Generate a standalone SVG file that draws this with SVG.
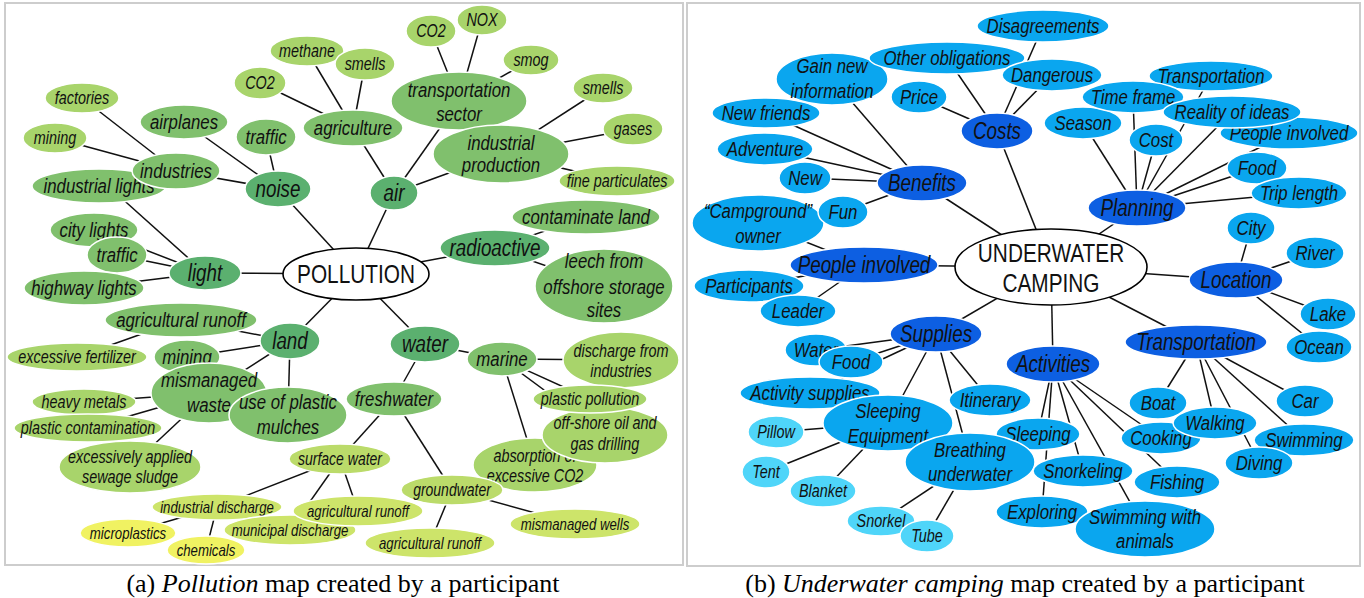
<svg xmlns="http://www.w3.org/2000/svg" width="1364" height="598" viewBox="0 0 1364 598">
<style>
.bg{fill:#fff}
.frame{fill:#fff;stroke:#cdcdcd;stroke-width:2}
ellipse{stroke:#fff;stroke-width:1.5}
ellipse.root{fill:#fff;stroke:#000;stroke-width:1.6}
.g1{fill:#5bb06f}.g2{fill:#80c06d}.g3{fill:#a8d46b}.g3b{fill:#bbdb6a}.g4{fill:#cde46a}.g5{fill:#f0f262}
.b1{fill:#0d5fe2}.b2{fill:#0aa6ef}.b3{fill:#4fd5f9}
text{font-family:"Liberation Sans",Arial,sans-serif;font-style:italic;fill:#111;text-anchor:middle}
.f0{font-size:26px;font-style:normal}
.f1{font-size:23.5px}.f2{font-size:21px}.f3{font-size:18px}.f35{font-size:17.5px}.f4{font-size:16.5px}
.cap{font-family:"Liberation Serif","Times New Roman",serif;font-style:normal;font-size:26px;fill:#000}
.cap .it{font-style:italic}
.conn line{stroke:#111;stroke-width:1.5}
</style>
<rect class="bg" x="0" y="0" width="1364" height="598"/>
<rect class="frame" x="5" y="3" width="678" height="562"/>
<rect class="frame" x="687" y="3" width="673" height="563"/>

<!-- LEFT connectors -->
<g id="connectors-pollution" class="conn">
<line x1="356" y1="274" x2="278" y2="189"/>
<line x1="356" y1="274" x2="394" y2="193"/>
<line x1="356" y1="274" x2="205" y2="273"/>
<line x1="356" y1="274" x2="290" y2="341"/>
<line x1="356" y1="274" x2="425" y2="344"/>
<line x1="356" y1="274" x2="495" y2="248"/>
<line x1="278" y1="189" x2="176" y2="171"/>
<line x1="278" y1="189" x2="184" y2="122"/>
<line x1="278" y1="189" x2="266" y2="137"/>
<line x1="176" y1="171" x2="82" y2="98"/>
<line x1="176" y1="171" x2="55" y2="138"/>
<line x1="205" y1="273" x2="108" y2="186"/>
<line x1="205" y1="273" x2="94" y2="230"/>
<line x1="205" y1="273" x2="117" y2="255"/>
<line x1="205" y1="273" x2="84" y2="288"/>
<line x1="290" y1="341" x2="181" y2="320"/>
<line x1="290" y1="341" x2="187" y2="357"/>
<line x1="290" y1="341" x2="209" y2="393"/>
<line x1="290" y1="341" x2="288" y2="415"/>
<line x1="181" y1="320" x2="77" y2="357"/>
<line x1="209" y1="393" x2="84" y2="402"/>
<line x1="209" y1="393" x2="88" y2="428"/>
<line x1="209" y1="393" x2="130" y2="467"/>
<line x1="394" y1="193" x2="353" y2="128"/>
<line x1="394" y1="193" x2="459" y2="101"/>
<line x1="394" y1="193" x2="501" y2="154"/>
<line x1="353" y1="128" x2="260" y2="83"/>
<line x1="353" y1="128" x2="307" y2="51"/>
<line x1="353" y1="128" x2="365" y2="64"/>
<line x1="459" y1="101" x2="431" y2="31"/>
<line x1="459" y1="101" x2="482" y2="20"/>
<line x1="459" y1="101" x2="531" y2="60"/>
<line x1="501" y1="154" x2="603" y2="88"/>
<line x1="501" y1="154" x2="633" y2="129"/>
<line x1="501" y1="154" x2="617" y2="181"/>
<line x1="495" y1="248" x2="586" y2="217"/>
<line x1="495" y1="248" x2="604" y2="286"/>
<line x1="425" y1="344" x2="502" y2="359"/>
<line x1="425" y1="344" x2="394" y2="399"/>
<line x1="502" y1="359" x2="621" y2="360"/>
<line x1="502" y1="359" x2="590" y2="399"/>
<line x1="502" y1="359" x2="605" y2="435"/>
<line x1="502" y1="359" x2="535" y2="465"/>
<line x1="394" y1="399" x2="340" y2="459"/>
<line x1="394" y1="399" x2="452" y2="490"/>
<line x1="340" y1="459" x2="217" y2="507"/>
<line x1="340" y1="459" x2="358" y2="511"/>
<line x1="340" y1="459" x2="290" y2="530"/>
<line x1="217" y1="507" x2="128" y2="533"/>
<line x1="217" y1="507" x2="206" y2="550"/>
<line x1="452" y1="490" x2="430" y2="543"/>
<line x1="452" y1="490" x2="575" y2="524"/>
</g>

<!-- LEFT nodes -->
<g id="pollution"><ellipse class="root" cx="356" cy="274" rx="73" ry="26"/><text class="f0" transform="translate(356 274) scale(.8 1)" y="9">POLLUTION</text></g>
<g id="noise"><ellipse class="g1" cx="278" cy="189" rx="33" ry="18"/><text class="f1" transform="translate(278 189) scale(.8 1)" y="8.2">noise</text></g>
<g id="air"><ellipse class="g1" cx="394" cy="193" rx="24" ry="17"/><text class="f1" transform="translate(394 193) scale(.8 1)" y="8.2">air</text></g>
<g id="light"><ellipse class="g1" cx="205" cy="273" rx="36" ry="17"/><text class="f1" transform="translate(205 273) scale(.8 1)" y="8.2">light</text></g>
<g id="land"><ellipse class="g1" cx="290" cy="341" rx="30" ry="18"/><text class="f1" transform="translate(290 341) scale(.8 1)" y="8.2">land</text></g>
<g id="water"><ellipse class="g1" cx="425" cy="344" rx="35" ry="18"/><text class="f1" transform="translate(425 344) scale(.8 1)" y="8.2">water</text></g>
<g id="radioactive"><ellipse class="g1" cx="495" cy="248" rx="55" ry="18"/><text class="f1" transform="translate(495 248) scale(.8 1)" y="8.2">radioactive</text></g>

<g id="airplanes"><ellipse class="g2" cx="184" cy="122" rx="44" ry="17"/><text class="f2" transform="translate(184 122) scale(.8 1)" y="7.4">airplanes</text></g>
<g id="traffic-noise"><ellipse class="g2" cx="266" cy="137" rx="30" ry="18"/><text class="f2" transform="translate(266 137) scale(.8 1)" y="7.4">traffic</text></g>
<g id="industrial-lights"><ellipse class="g2" cx="99" cy="186" rx="67" ry="17"/><text class="f2" transform="translate(99 186) scale(.8 1)" y="7.4">industrial lights</text></g>
<g id="industries"><ellipse class="g2" cx="176" cy="171" rx="44" ry="18"/><text class="f2" transform="translate(176 171) scale(.8 1)" y="7.4">industries</text></g>
<g id="city-lights"><ellipse class="g2" cx="94" cy="230" rx="44" ry="17"/><text class="f2" transform="translate(94 230) scale(.8 1)" y="7.4">city lights</text></g>
<g id="traffic-light"><ellipse class="g2" cx="117" cy="255" rx="30" ry="18"/><text class="f2" transform="translate(117 255) scale(.8 1)" y="7.4">traffic</text></g>
<g id="highway-lights"><ellipse class="g2" cx="84" cy="288" rx="60" ry="17"/><text class="f2" transform="translate(84 288) scale(.8 1)" y="7.4">highway lights</text></g>
<g id="agricultural-runoff-land"><ellipse class="g2" cx="181" cy="320" rx="76" ry="17"/><text class="f2" transform="translate(181 320) scale(.8 1)" y="7.4">agricultural runoff</text></g>
<g id="mining-land"><ellipse class="g2" cx="187" cy="357" rx="33" ry="17"/><text class="f2" transform="translate(187 357) scale(.8 1)" y="7.4">mining</text></g>
<g id="mismanaged-waste"><ellipse class="g2" cx="209" cy="393" rx="58" ry="30"/><text class="f2" transform="translate(209 393) scale(.8 1)"><tspan x="0" y="-6">mismanaged</tspan><tspan x="0" y="19">waste</tspan></text></g>
<g id="plastic-mulches"><ellipse class="g2" cx="288" cy="415" rx="59" ry="28"/><text class="f2" transform="translate(288 415) scale(.8 1)"><tspan x="0" y="-6">use of plastic</tspan><tspan x="0" y="19">mulches</tspan></text></g>
<g id="agriculture"><ellipse class="g2" cx="353" cy="128" rx="50" ry="18"/><text class="f2" transform="translate(353 128) scale(.8 1)" y="7.4">agriculture</text></g>
<g id="transportation-sector"><ellipse class="g2" cx="459" cy="101" rx="68" ry="29"/><text class="f2" transform="translate(459 101) scale(.8 1)"><tspan x="0" y="-4.5">transportation</tspan><tspan x="0" y="20.5">sector</tspan></text></g>
<g id="industrial-production"><ellipse class="g2" cx="501" cy="154" rx="68" ry="29"/><text class="f2" transform="translate(501 154) scale(.8 1)"><tspan x="0" y="-4">industrial</tspan><tspan x="0" y="18">production</tspan></text></g>
<g id="contaminate-land"><ellipse class="g2" cx="586" cy="217" rx="74" ry="17"/><text class="f2" transform="translate(586 217) scale(.8 1)" y="7.4">contaminate land</text></g>
<g id="leech"><ellipse class="g2" cx="604" cy="286" rx="69" ry="37"/><text class="f2" transform="translate(604 286) scale(.8 1)"><tspan x="0" y="-18">leech from</tspan><tspan x="0" y="8">offshore storage</tspan><tspan x="0" y="31">sites</tspan></text></g>
<g id="marine"><ellipse class="g2" cx="502" cy="359" rx="35" ry="17"/><text class="f2" transform="translate(502 359) scale(.8 1)" y="7.4">marine</text></g>
<g id="freshwater"><ellipse class="g2" cx="394" cy="399" rx="48" ry="17"/><text class="f2" transform="translate(394 399) scale(.8 1)" y="7.4">freshwater</text></g>

<g id="factories"><ellipse class="g3" cx="82" cy="98" rx="37" ry="15"/><text class="f3" transform="translate(82 98) scale(.8 1)" y="6.3">factories</text></g>
<g id="mining-industries"><ellipse class="g3" cx="55" cy="138" rx="32" ry="15"/><text class="f3" transform="translate(55 138) scale(.8 1)" y="6.3">mining</text></g>
<g id="co2-agriculture"><ellipse class="g3" cx="260" cy="83" rx="26" ry="16"/><text class="f3" transform="translate(260 83) scale(.8 1)" y="6.3">CO2</text></g>
<g id="methane"><ellipse class="g3" cx="307" cy="51" rx="37" ry="15"/><text class="f3" transform="translate(307 51) scale(.8 1)" y="6.3">methane</text></g>
<g id="smells-agriculture"><ellipse class="g3" cx="365" cy="64" rx="30" ry="16"/><text class="f3" transform="translate(365 64) scale(.8 1)" y="6.3">smells</text></g>
<g id="co2-transport"><ellipse class="g3" cx="431" cy="31" rx="25" ry="16"/><text class="f3" transform="translate(431 31) scale(.8 1)" y="6.3">CO2</text></g>
<g id="nox"><ellipse class="g3" cx="482" cy="20" rx="25" ry="15"/><text class="f3" transform="translate(482 20) scale(.8 1)" y="6.3">NOX</text></g>
<g id="smog"><ellipse class="g3" cx="531" cy="60" rx="28" ry="15"/><text class="f3" transform="translate(531 60) scale(.8 1)" y="6.3">smog</text></g>
<g id="smells-industrial"><ellipse class="g3" cx="603" cy="88" rx="30" ry="15"/><text class="f3" transform="translate(603 88) scale(.8 1)" y="6.3">smells</text></g>
<g id="gases"><ellipse class="g3" cx="633" cy="129" rx="30" ry="16"/><text class="f3" transform="translate(633 129) scale(.8 1)" y="6.3">gases</text></g>
<g id="fine-particulates"><ellipse class="g3" cx="617" cy="181" rx="58" ry="15"/><text class="f3" transform="translate(617 181) scale(.8 1)" y="6.3">fine particulates</text></g>
<g id="excessive-fertilizer"><ellipse class="g3" cx="77" cy="357" rx="70" ry="14"/><text class="f3" transform="translate(77 357) scale(.8 1)" y="6.3">excessive fertilizer</text></g>
<g id="heavy-metals"><ellipse class="g3" cx="84" cy="402" rx="52" ry="13"/><text class="f3" transform="translate(84 402) scale(.8 1)" y="6.3">heavy metals</text></g>
<g id="plastic-contamination"><ellipse class="g3" cx="88" cy="428" rx="74" ry="14"/><text class="f3" transform="translate(88 428) scale(.8 1)" y="6.3">plastic contamination</text></g>
<g id="sewage-sludge"><ellipse class="g3" cx="130" cy="467" rx="71" ry="26"/><text class="f3" transform="translate(130 467) scale(.8 1)"><tspan x="0" y="-4">excessively applied</tspan><tspan x="0" y="16">sewage sludge</tspan></text></g>
<g id="absorption"><ellipse class="g3" cx="535" cy="465" rx="62" ry="27"/><text class="f3" transform="translate(535 465) scale(.8 1)"><tspan x="0" y="-3">absorption of</tspan><tspan x="0" y="17">excessive CO2</tspan></text></g>
<g id="offshore-drilling"><ellipse class="g3" cx="605" cy="435" rx="63" ry="28"/><text class="f3" transform="translate(605 435) scale(.8 1)"><tspan x="0" y="-6">off-shore oil and</tspan><tspan x="0" y="15">gas drilling</tspan></text></g>
<g id="discharge-industries"><ellipse class="g3" cx="621" cy="360" rx="58" ry="28"/><text class="f3" transform="translate(621 360) scale(.8 1)"><tspan x="0" y="-3">discharge from</tspan><tspan x="0" y="17">industries</tspan></text></g>
<g id="plastic-pollution"><ellipse class="g3" cx="590" cy="399" rx="57" ry="14"/><text class="f3" transform="translate(590 399) scale(.8 1)" y="6.3">plastic pollution</text></g>

<g id="surface-water"><ellipse class="g3b" cx="340" cy="459" rx="51" ry="15"/><text class="f35" transform="translate(340 459) scale(.8 1)" y="6.1">surface water</text></g>
<g id="groundwater"><ellipse class="g3b" cx="452" cy="490" rx="51" ry="15"/><text class="f35" transform="translate(452 490) scale(.8 1)" y="6.1">groundwater</text></g>
<g id="industrial-discharge"><ellipse class="g4" cx="217" cy="507" rx="65" ry="13"/><text class="f4" transform="translate(217 507) scale(.8 1)" y="5.8">industrial discharge</text></g>
<g id="municipal-discharge"><ellipse class="g4" cx="290" cy="530" rx="66" ry="15"/><text class="f4" transform="translate(290 530) scale(.8 1)" y="5.8">municipal discharge</text></g>
<g id="agricultural-runoff-surface"><ellipse class="g4" cx="358" cy="511" rx="65" ry="15"/><text class="f4" transform="translate(358 511) scale(.8 1)" y="5.8">agricultural runoff</text></g>
<g id="agricultural-runoff-ground"><ellipse class="g4" cx="430" cy="543" rx="65" ry="15"/><text class="f4" transform="translate(430 543) scale(.8 1)" y="5.8">agricultural runoff</text></g>
<g id="mismanaged-wells"><ellipse class="g4" cx="575" cy="524" rx="65" ry="15"/><text class="f4" transform="translate(575 524) scale(.8 1)" y="5.8">mismanaged wells</text></g>
<g id="microplastics"><ellipse class="g5" cx="128" cy="533" rx="48" ry="14"/><text class="f4" transform="translate(128 533) scale(.8 1)" y="5.8">microplastics</text></g>
<g id="chemicals"><ellipse class="g5" cx="206" cy="550" rx="39" ry="14"/><text class="f4" transform="translate(206 550) scale(.8 1)" y="5.8">chemicals</text></g>

<!-- RIGHT connectors -->
<g id="connectors-camping" class="conn">
<line x1="1051" y1="267" x2="997" y2="131"/>
<line x1="1051" y1="267" x2="922" y2="183"/>
<line x1="1051" y1="267" x2="1137" y2="208"/>
<line x1="1051" y1="267" x2="864" y2="265"/>
<line x1="1051" y1="267" x2="1236" y2="280"/>
<line x1="1051" y1="267" x2="936" y2="334"/>
<line x1="1051" y1="267" x2="1053" y2="364"/>
<line x1="1051" y1="267" x2="1196" y2="342"/>
<line x1="997" y1="131" x2="1043" y2="26"/>
<line x1="997" y1="131" x2="947" y2="58"/>
<line x1="997" y1="131" x2="1052" y2="75"/>
<line x1="997" y1="131" x2="919" y2="97"/>
<line x1="922" y1="183" x2="832" y2="79"/>
<line x1="922" y1="183" x2="766" y2="113"/>
<line x1="922" y1="183" x2="765" y2="149"/>
<line x1="922" y1="183" x2="805" y2="178"/>
<line x1="922" y1="183" x2="843" y2="212"/>
<line x1="864" y1="265" x2="758" y2="223"/>
<line x1="864" y1="265" x2="749" y2="286"/>
<line x1="864" y1="265" x2="798" y2="311"/>
<line x1="936" y1="334" x2="816" y2="350"/>
<line x1="936" y1="334" x2="851" y2="362"/>
<line x1="936" y1="334" x2="810" y2="393"/>
<line x1="936" y1="334" x2="888" y2="423"/>
<line x1="936" y1="334" x2="990" y2="400"/>
<line x1="936" y1="334" x2="970" y2="462"/>
<line x1="888" y1="423" x2="776" y2="432"/>
<line x1="888" y1="423" x2="766" y2="472"/>
<line x1="888" y1="423" x2="823" y2="491"/>
<line x1="970" y1="462" x2="881" y2="521"/>
<line x1="970" y1="462" x2="927" y2="536"/>
<line x1="1137" y1="208" x2="1083" y2="123"/>
<line x1="1137" y1="208" x2="1133" y2="97"/>
<line x1="1137" y1="208" x2="1211" y2="76"/>
<line x1="1137" y1="208" x2="1232" y2="112"/>
<line x1="1137" y1="208" x2="1156" y2="140"/>
<line x1="1137" y1="208" x2="1289" y2="133"/>
<line x1="1137" y1="208" x2="1257" y2="168"/>
<line x1="1137" y1="208" x2="1299" y2="193"/>
<line x1="1236" y1="280" x2="1251" y2="228"/>
<line x1="1236" y1="280" x2="1315" y2="253"/>
<line x1="1236" y1="280" x2="1328" y2="314"/>
<line x1="1236" y1="280" x2="1319" y2="347"/>
<line x1="1196" y1="342" x2="1158" y2="403"/>
<line x1="1196" y1="342" x2="1215" y2="423"/>
<line x1="1196" y1="342" x2="1259" y2="463"/>
<line x1="1196" y1="342" x2="1304" y2="440"/>
<line x1="1196" y1="342" x2="1305" y2="401"/>
<line x1="1053" y1="364" x2="1038" y2="434"/>
<line x1="1053" y1="364" x2="1042" y2="512"/>
<line x1="1053" y1="364" x2="1083" y2="471"/>
<line x1="1053" y1="364" x2="1145" y2="529"/>
<line x1="1053" y1="364" x2="1161" y2="438"/>
<line x1="1053" y1="364" x2="1177" y2="482"/>
</g>

<!-- RIGHT nodes -->
<g id="underwater-camping"><ellipse class="root" cx="1051" cy="267" rx="96" ry="38"/><text class="f0" transform="translate(1051 267) scale(.8 1)"><tspan x="0" y="-5">UNDERWATER</tspan><tspan x="0" y="25">CAMPING</tspan></text></g>
<g id="costs"><ellipse class="b1" cx="997" cy="131" rx="36" ry="18"/><text class="f1" transform="translate(997 131) scale(.8 1)" y="8.2">Costs</text></g>
<g id="benefits"><ellipse class="b1" cx="922" cy="183" rx="45" ry="18"/><text class="f1" transform="translate(922 183) scale(.8 1)" y="8.2">Benefits</text></g>
<g id="planning"><ellipse class="b1" cx="1137" cy="208" rx="49" ry="18"/><text class="f1" transform="translate(1137 208) scale(.8 1)" y="8.2">Planning</text></g>
<g id="people-involved"><ellipse class="b1" cx="864" cy="265" rx="74" ry="18"/><text class="f1" transform="translate(864 265) scale(.8 1)" y="8.2">People involved</text></g>
<g id="location"><ellipse class="b1" cx="1236" cy="280" rx="47" ry="18"/><text class="f1" transform="translate(1236 280) scale(.8 1)" y="8.2">Location</text></g>
<g id="supplies"><ellipse class="b1" cx="936" cy="334" rx="46" ry="18"/><text class="f1" transform="translate(936 334) scale(.8 1)" y="8.2">Supplies</text></g>
<g id="activities"><ellipse class="b1" cx="1053" cy="364" rx="47" ry="18"/><text class="f1" transform="translate(1053 364) scale(.8 1)" y="8.2">Activities</text></g>
<g id="transportation"><ellipse class="b1" cx="1196" cy="342" rx="71" ry="17"/><text class="f1" transform="translate(1196 342) scale(.8 1)" y="8.2">Transportation</text></g>

<g id="disagreements"><ellipse class="b2" cx="1043" cy="26" rx="66" ry="16"/><text class="f2" transform="translate(1043 26) scale(.8 1)" y="7.4">Disagreements</text></g>
<g id="gain-new-information"><ellipse class="b2" cx="832" cy="79" rx="56" ry="26"/><text class="f2" transform="translate(832 79) scale(.8 1)"><tspan x="0" y="-6">Gain new</tspan><tspan x="0" y="19">information</tspan></text></g>
<g id="other-obligations"><ellipse class="b2" cx="947" cy="58" rx="78" ry="16"/><text class="f2" transform="translate(947 58) scale(.8 1)" y="7.4">Other obligations</text></g>
<g id="dangerous"><ellipse class="b2" cx="1052" cy="75" rx="50" ry="16"/><text class="f2" transform="translate(1052 75) scale(.8 1)" y="7.4">Dangerous</text></g>
<g id="price"><ellipse class="b2" cx="919" cy="97" rx="28" ry="16"/><text class="f2" transform="translate(919 97) scale(.8 1)" y="7.4">Price</text></g>
<g id="new-friends"><ellipse class="b2" cx="766" cy="113" rx="54" ry="15"/><text class="f2" transform="translate(766 113) scale(.8 1)" y="7.4">New friends</text></g>
<g id="adventure"><ellipse class="b2" cx="765" cy="149" rx="48" ry="16"/><text class="f2" transform="translate(765 149) scale(.8 1)" y="7.4">Adventure</text></g>
<g id="new"><ellipse class="b2" cx="805" cy="178" rx="26" ry="16"/><text class="f2" transform="translate(805 178) scale(.8 1)" y="7.4">New</text></g>
<g id="campground-owner"><ellipse class="b2" cx="758" cy="223" rx="66" ry="28"/><text class="f2" transform="translate(758 223) scale(.8 1)"><tspan x="0" y="-5">“Campground”</tspan><tspan x="0" y="20">owner</tspan></text></g>
<g id="fun"><ellipse class="b2" cx="843" cy="212" rx="25" ry="16"/><text class="f2" transform="translate(843 212) scale(.8 1)" y="7.4">Fun</text></g>
<g id="participants"><ellipse class="b2" cx="749" cy="286" rx="55" ry="16"/><text class="f2" transform="translate(749 286) scale(.8 1)" y="7.4">Participants</text></g>
<g id="leader"><ellipse class="b2" cx="798" cy="311" rx="38" ry="16"/><text class="f2" transform="translate(798 311) scale(.8 1)" y="7.4">Leader</text></g>
<g id="water-supply"><ellipse class="b2" cx="816" cy="350" rx="31" ry="16"/><text class="f2" transform="translate(816 350) scale(.8 1)" y="7.4">Water</text></g>
<g id="food-supply"><ellipse class="b2" cx="851" cy="362" rx="32" ry="16"/><text class="f2" transform="translate(851 362) scale(.8 1)" y="7.4">Food</text></g>
<g id="activity-supplies"><ellipse class="b2" cx="810" cy="393" rx="70" ry="16"/><text class="f2" transform="translate(810 393) scale(.8 1)" y="7.4">Activity supplies</text></g>
<g id="itinerary"><ellipse class="b2" cx="990" cy="400" rx="41" ry="16"/><text class="f2" transform="translate(990 400) scale(.8 1)" y="7.4">Itinerary</text></g>
<g id="sleeping-equipment"><ellipse class="b2" cx="888" cy="423" rx="65" ry="28"/><text class="f2" transform="translate(888 423) scale(.8 1)"><tspan x="0" y="-5">Sleeping</tspan><tspan x="0" y="20">Equipment</tspan></text></g>
<g id="sleeping"><ellipse class="b2" cx="1038" cy="434" rx="42" ry="16"/><text class="f2" transform="translate(1038 434) scale(.8 1)" y="7.4">Sleeping</text></g>
<g id="breathing-underwater"><ellipse class="b2" cx="970" cy="462" rx="65" ry="29"/><text class="f2" transform="translate(970 462) scale(.8 1)"><tspan x="0" y="-5">Breathing</tspan><tspan x="0" y="19">underwater</tspan></text></g>
<g id="season"><ellipse class="b2" cx="1083" cy="123" rx="39" ry="16"/><text class="f2" transform="translate(1083 123) scale(.8 1)" y="7.4">Season</text></g>
<g id="transportation-planning"><ellipse class="b2" cx="1211" cy="76" rx="62" ry="15"/><text class="f2" transform="translate(1211 76) scale(.8 1)" y="7.4">Transportation</text></g>
<g id="time-frame"><ellipse class="b2" cx="1133" cy="97" rx="51" ry="16"/><text class="f2" transform="translate(1133 97) scale(.8 1)" y="7.4">Time frame</text></g>
<g id="people-involved-planning"><ellipse class="b2" cx="1289" cy="133" rx="69" ry="16"/><text class="f2" transform="translate(1289 133) scale(.8 1)" y="7.4">People involved</text></g>
<g id="reality-of-ideas"><ellipse class="b2" cx="1232" cy="112" rx="69" ry="16"/><text class="f2" transform="translate(1232 112) scale(.8 1)" y="7.4">Reality of ideas</text></g>
<g id="cost"><ellipse class="b2" cx="1156" cy="140" rx="27" ry="16"/><text class="f2" transform="translate(1156 140) scale(.8 1)" y="7.4">Cost</text></g>
<g id="food-planning"><ellipse class="b2" cx="1257" cy="168" rx="30" ry="16"/><text class="f2" transform="translate(1257 168) scale(.8 1)" y="7.4">Food</text></g>
<g id="trip-length"><ellipse class="b2" cx="1299" cy="193" rx="48" ry="16"/><text class="f2" transform="translate(1299 193) scale(.8 1)" y="7.4">Trip length</text></g>
<g id="city"><ellipse class="b2" cx="1251" cy="228" rx="24" ry="16"/><text class="f2" transform="translate(1251 228) scale(.8 1)" y="7.4">City</text></g>
<g id="river"><ellipse class="b2" cx="1315" cy="253" rx="29" ry="16"/><text class="f2" transform="translate(1315 253) scale(.8 1)" y="7.4">River</text></g>
<g id="lake"><ellipse class="b2" cx="1328" cy="314" rx="28" ry="16"/><text class="f2" transform="translate(1328 314) scale(.8 1)" y="7.4">Lake</text></g>
<g id="ocean"><ellipse class="b2" cx="1319" cy="347" rx="33" ry="16"/><text class="f2" transform="translate(1319 347) scale(.8 1)" y="7.4">Ocean</text></g>
<g id="boat"><ellipse class="b2" cx="1158" cy="403" rx="29" ry="16"/><text class="f2" transform="translate(1158 403) scale(.8 1)" y="7.4">Boat</text></g>
<g id="car"><ellipse class="b2" cx="1305" cy="401" rx="29" ry="16"/><text class="f2" transform="translate(1305 401) scale(.8 1)" y="7.4">Car</text></g>
<g id="cooking"><ellipse class="b2" cx="1161" cy="438" rx="40" ry="16"/><text class="f2" transform="translate(1161 438) scale(.8 1)" y="7.4">Cooking</text></g>
<g id="walking"><ellipse class="b2" cx="1215" cy="423" rx="42" ry="16"/><text class="f2" transform="translate(1215 423) scale(.8 1)" y="7.4">Walking</text></g>
<g id="swimming"><ellipse class="b2" cx="1304" cy="440" rx="50" ry="16"/><text class="f2" transform="translate(1304 440) scale(.8 1)" y="7.4">Swimming</text></g>
<g id="diving"><ellipse class="b2" cx="1259" cy="463" rx="34" ry="16"/><text class="f2" transform="translate(1259 463) scale(.8 1)" y="7.4">Diving</text></g>
<g id="fishing"><ellipse class="b2" cx="1177" cy="482" rx="43" ry="16"/><text class="f2" transform="translate(1177 482) scale(.8 1)" y="7.4">Fishing</text></g>
<g id="snorkeling"><ellipse class="b2" cx="1083" cy="471" rx="50" ry="16"/><text class="f2" transform="translate(1083 471) scale(.8 1)" y="7.4">Snorkeling</text></g>
<g id="exploring"><ellipse class="b2" cx="1042" cy="512" rx="46" ry="16"/><text class="f2" transform="translate(1042 512) scale(.8 1)" y="7.4">Exploring</text></g>
<g id="swimming-with-animals"><ellipse class="b2" cx="1145" cy="529" rx="70" ry="28"/><text class="f2" transform="translate(1145 529) scale(.8 1)"><tspan x="0" y="-5">Swimming with</tspan><tspan x="0" y="19">animals</tspan></text></g>

<g id="pillow"><ellipse class="b3" cx="776" cy="432" rx="28" ry="16"/><text class="f3" transform="translate(776 432) scale(.8 1)" y="6.3">Pillow</text></g>
<g id="tent"><ellipse class="b3" cx="766" cy="472" rx="24" ry="16"/><text class="f3" transform="translate(766 472) scale(.8 1)" y="6.3">Tent</text></g>
<g id="blanket"><ellipse class="b3" cx="823" cy="491" rx="33" ry="16"/><text class="f3" transform="translate(823 491) scale(.8 1)" y="6.3">Blanket</text></g>
<g id="snorkel"><ellipse class="b3" cx="881" cy="521" rx="34" ry="15"/><text class="f3" transform="translate(881 521) scale(.8 1)" y="6.3">Snorkel</text></g>
<g id="tube"><ellipse class="b3" cx="927" cy="536" rx="27" ry="16"/><text class="f3" transform="translate(927 536) scale(.8 1)" y="6.3">Tube</text></g>

<g id="captions">
<text class="cap" x="343" y="592">(a) <tspan class="it">Pollution</tspan> map created by a participant</text>
<text class="cap" x="1025" y="592">(b) <tspan class="it">Underwater camping</tspan> map created by a participant</text>
</g>
</svg>
